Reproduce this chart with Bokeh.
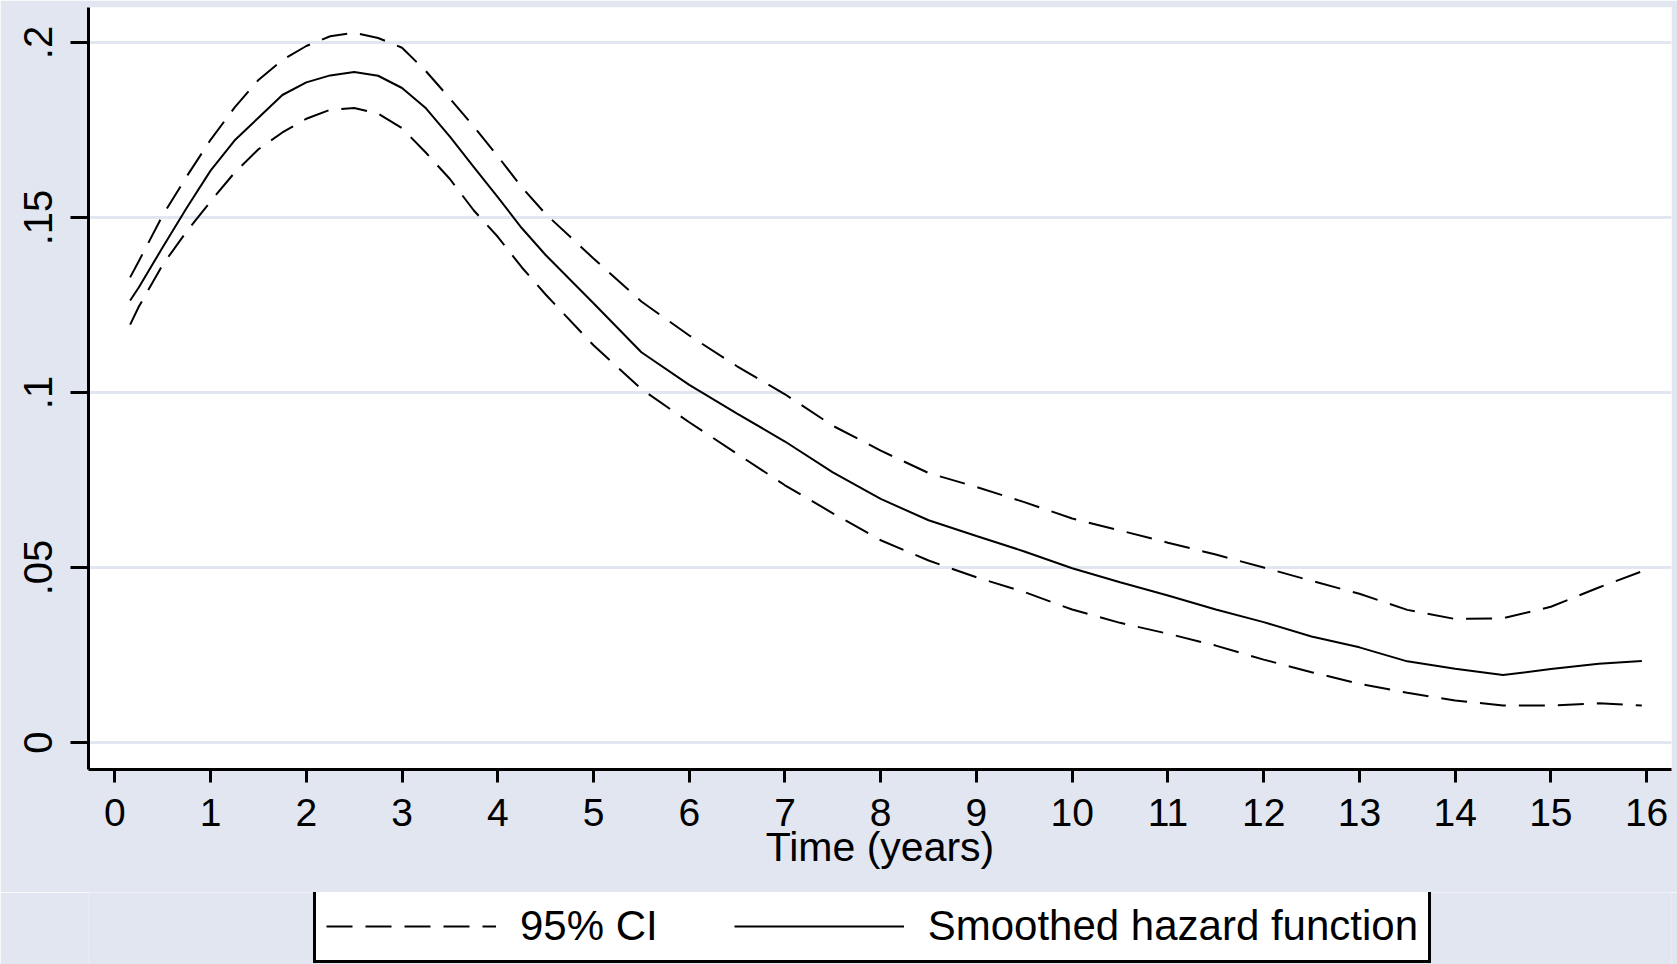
from bokeh.plotting import figure
from bokeh.models import Range1d, Legend, LegendItem, FixedTicker
from bokeh.layouts import column
from bokeh.embed import file_html
from bokeh.resources import INLINE

# ---- data ----
time_years = [0.16, 0.25, 0.5, 0.75, 1.0, 1.25, 1.5, 1.75, 2.0, 2.25, 2.5, 2.75,
              3.0, 3.25, 3.5, 3.75, 4.0, 4.25, 4.5, 5.0, 5.5, 6.0, 6.5, 7.0, 7.5,
              8.0, 8.5, 9.0, 9.5, 10.0, 10.5, 11.0, 11.5, 12.0, 12.5, 13.0, 13.5,
              14.0, 14.5, 15.0, 15.5, 15.95]
hazard = [0.1263, 0.1300, 0.1415, 0.1527, 0.1634, 0.1720, 0.1785, 0.1850, 0.1886,
          0.1906, 0.1916, 0.1905, 0.1870, 0.1812, 0.1731, 0.1644, 0.1558, 0.1470,
          0.1393, 0.1255, 0.1115, 0.1022, 0.0940, 0.0860, 0.0772, 0.0696, 0.0635,
          0.0590, 0.0546, 0.0498, 0.0458, 0.0420, 0.0380, 0.0344, 0.0303, 0.0272,
          0.0232, 0.0211, 0.0193, 0.0210, 0.0225, 0.0233]
ci_upper = [0.1329, 0.1375, 0.1506, 0.1617, 0.1722, 0.1814, 0.1893, 0.1950, 0.1990,
            0.2018, 0.2028, 0.2013, 0.1985, 0.1918, 0.1840, 0.1760, 0.1675, 0.1587,
            0.1510, 0.1383, 0.1260, 0.1163, 0.1075, 0.0995, 0.0905, 0.0834, 0.0770,
            0.0730, 0.0687, 0.0640, 0.0606, 0.0571, 0.0537, 0.0500, 0.0462, 0.0425,
            0.0379, 0.0353, 0.0355, 0.0388, 0.0443, 0.0489]
ci_lower = [0.1194, 0.1245, 0.1365, 0.1460, 0.1546, 0.1628, 0.1695, 0.1743, 0.1782,
            0.1808, 0.1813, 0.1797, 0.1755, 0.1685, 0.1610, 0.1520, 0.1445, 0.1358,
            0.1280, 0.1135, 0.1010, 0.0915, 0.0825, 0.0735, 0.0655, 0.0578, 0.0520,
            0.0472, 0.0430, 0.0380, 0.0342, 0.0311, 0.0277, 0.0237, 0.0201, 0.0168,
            0.0142, 0.0120, 0.0106, 0.0106, 0.0112, 0.0106]

x_ticks = list(range(0, 17))
y_ticks = [0, 0.05, 0.1, 0.15, 0.2]
y_tick_labels = ["0", ".05", ".1", ".15", ".2"]
x_title = "Time (years)"
legend_labels = ["95% CI", "Smoothed hazard function"]

BG = "#E1E6F0"
FONT = "Liberation Sans"
DASH = "26 13"

# ---- main chart ----
p = figure(width=1677, height=892, output_backend="svg", toolbar_location=None,
           x_range=Range1d(-0.275, 16.26), y_range=Range1d(-0.0077, 0.2100),
           min_border_left=88, min_border_right=6, min_border_top=7,
           min_border_bottom=123)
p.border_fill_color = BG
p.background_fill_color = "white"
p.outline_line_color = None

p.line(time_years, ci_upper, line_color="black", line_width=2, line_dash=DASH)
p.line(time_years, ci_lower, line_color="black", line_width=2, line_dash=DASH)
p.line(time_years, hazard, line_color="black", line_width=2)

p.xgrid.grid_line_color = None
p.ygrid.grid_line_color = BG
p.ygrid.grid_line_width = 3
p.ygrid.ticker = FixedTicker(ticks=y_ticks)

xa = p.xaxis[0]
xa.ticker = FixedTicker(ticks=x_ticks)
xa.minor_tick_line_color = None
xa.major_tick_in = 0
xa.major_tick_out = 13
xa.major_tick_line_width = 3
xa.axis_line_width = 3
xa.major_label_text_font = FONT
xa.major_label_text_font_size = "39px"
xa.major_label_text_color = "black"
xa.major_label_standoff = 16
xa.axis_label = x_title
xa.axis_label_text_font = FONT
xa.axis_label_text_font_size = "41px"
xa.axis_label_text_font_style = "normal"
xa.axis_label_text_color = "black"
xa.axis_label_standoff = -5

ya = p.yaxis[0]
ya.ticker = FixedTicker(ticks=y_ticks)
ya.major_label_overrides = {t: l for t, l in zip(y_ticks, y_tick_labels)}
ya.minor_tick_line_color = None
ya.major_tick_in = 0
ya.major_tick_out = 18
ya.major_tick_line_width = 3
ya.axis_line_width = 3
ya.major_label_orientation = "vertical"
ya.major_label_text_font = FONT
ya.major_label_text_font_size = "40px"
ya.major_label_text_color = "black"
ya.major_label_standoff = 18

# ---- legend strip (below the chart); its lines lie outside its visible range ----
pl = figure(width=1677, height=72, output_backend="svg", toolbar_location=None,
            x_range=Range1d(100, 101), y_range=Range1d(100, 101),
            min_border_left=88, min_border_right=6, min_border_top=0,
            min_border_bottom=0, x_axis_type=None, y_axis_type=None)
pl.border_fill_color = BG
pl.background_fill_color = BG
pl.outline_line_color = None
pl.xgrid.grid_line_color = None
pl.ygrid.grid_line_color = None
g_ci = pl.line(time_years, ci_upper, line_color="black", line_width=2, line_dash=DASH)
g_h = pl.line(time_years, hazard, line_color="black", line_width=2)

legend = Legend(items=[LegendItem(label=legend_labels[0], renderers=[g_ci]),
                       LegendItem(label=legend_labels[1], renderers=[g_h])],
                orientation="horizontal", location=(225, 1))
legend.label_text_font = FONT
legend.label_text_font_size = "42px"
legend.label_text_color = "black"
legend.glyph_width = 170
legend.glyph_height = 40
legend.label_standoff = 24
legend.spacing = 76
legend.padding = 10
legend.margin = 0
legend.border_line_color = "black"
legend.border_line_alpha = 1.0
legend.border_line_width = 3
legend.background_fill_color = "white"
legend.background_fill_alpha = 1.0
pl.add_layout(legend, "center")

layout = column(p, pl, spacing=0)
open("out.html", "w").write(file_html(layout, INLINE))
